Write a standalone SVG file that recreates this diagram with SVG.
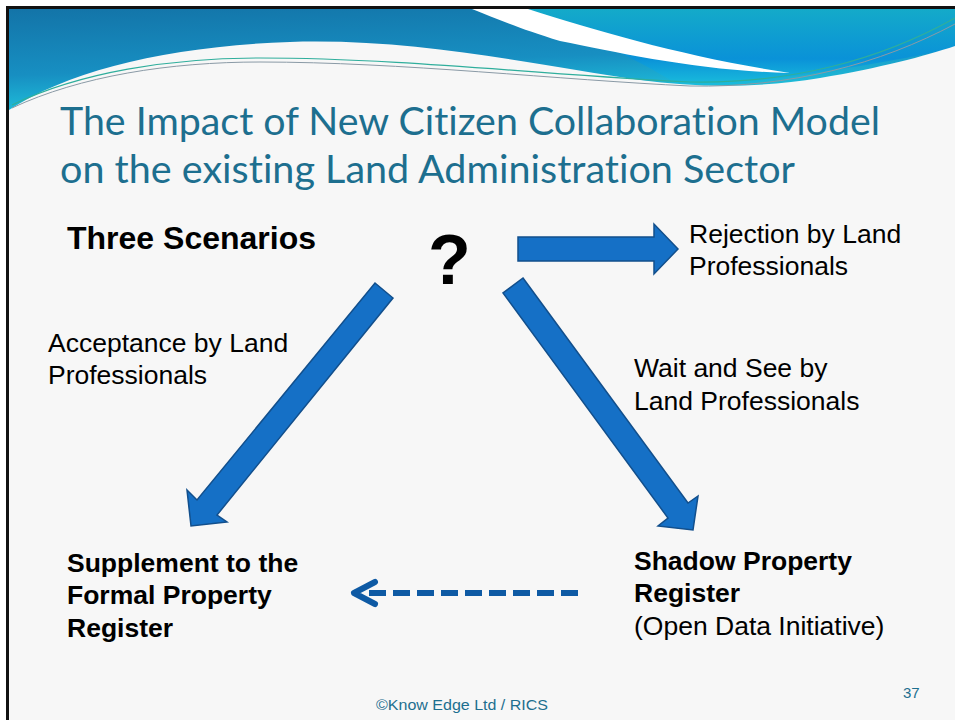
<svg xmlns="http://www.w3.org/2000/svg" width="955" height="720" viewBox="0 0 955 720">
<defs>
<linearGradient id="gLeft" x1="0" y1="0" x2="0.3" y2="1">
<stop offset="0" stop-color="#1374a8"/>
<stop offset="0.55" stop-color="#178fc2"/>
<stop offset="1" stop-color="#22d3e4"/>
</linearGradient>
<linearGradient id="gRight" x1="0" y1="0" x2="0" y2="1">
<stop offset="0" stop-color="#14aac9"/>
<stop offset="0.6" stop-color="#0a92d8"/>
<stop offset="1" stop-color="#1ec8dd"/>
</linearGradient>
<style>
.title{font-family:"Lato","Open Sans",sans-serif;font-size:38px;fill:#1d6f8f;font-variant-ligatures:none;font-feature-settings:"liga" 0,"dlig" 0}
.lbl{font-family:"Liberation Sans",Arial,sans-serif;font-size:26.5px;fill:#000}
.bold{font-family:"Liberation Sans",Arial,sans-serif;font-size:26.5px;font-weight:bold;fill:#000}
.foot{font-family:"Liberation Sans",Arial,sans-serif;font-size:15px;fill:#1d6f8f}
.blk{fill:#1570c6;stroke:#124f8c;stroke-width:1.5;stroke-linejoin:miter}
</style>
</defs>
<rect x="0" y="0" width="955" height="720" fill="#ffffff"/>
<rect x="8" y="8" width="947" height="712" fill="#f7f7f7"/>
<!-- header -->
<path d="M9,9 L955,9 L955,120 L9,120 Z" fill="url(#gLeft)"/>
<path d="M500,9 L955,9 L955,48 C 880,64 800,76 720,86 L 690,92 C 640,60 580,30 500,9 Z" fill="url(#gRight)"/>
<path d="M472,9 L528,9 C 600,32 690,58 790,73 C 700,71 620,53 560,41 C 520,29 495,18 472,9 Z" fill="#ffffff"/>
<path d="M9,110 C 70,70 170,46 290,42 C 420,38 540,66 640,80 C 700,88 760,88 820,78 C 880,68 925,56 955,46 L955,125 L9,125 Z" fill="#f7f7f7"/>
<path d="M12,105 C 80,72 170,58 260,58 C 400,58 560,76 690,82 C 790,84 880,60 955,18" fill="none" stroke="#2fae9c" stroke-width="1.2"/>
<path d="M12,108 C 80,76 170,62 260,62 C 400,62 560,80 690,86 C 790,88 880,64 955,24" fill="none" stroke="#8a9aa6" stroke-width="1"/>
<rect x="9" y="120" width="946" height="600" fill="#f7f7f7"/>
<!-- border -->
<path d="M7.5,720 L7.5,7.5 L955,7.5" fill="none" stroke="#111" stroke-width="3"/>
<!-- title -->
<g id="title">
<text class="title" x="60" y="135" textLength="820" lengthAdjust="spacingAndGlyphs">The Impact of New Citizen Collaboration Model</text>
<text class="title" x="60" y="183" textLength="735" lengthAdjust="spacingAndGlyphs">on the existing Land Administration Sector</text>
</g>
<g id="heading">
<text x="67" y="249" font-family="Liberation Sans, Arial, sans-serif" font-size="32" font-weight="bold" fill="#000">Three Scenarios</text>
</g>
<g id="question">
<text x="428" y="284" font-family="Liberation Sans, Arial, sans-serif" font-size="70" font-weight="bold" fill="#000">?</text>
</g>
<g id="rejection">
<text class="lbl" x="689" y="243">Rejection by Land</text>
<text class="lbl" x="689" y="275">Professionals</text>
</g>
<g id="acceptance">
<text class="lbl" x="48" y="352">Acceptance by Land</text>
<text class="lbl" x="48" y="384">Professionals</text>
</g>
<g id="waitsee">
<text class="lbl" x="634" y="377">Wait and See by</text>
<text class="lbl" x="634" y="410">Land Professionals</text>
</g>
<g id="supplement">
<text class="bold" x="67" y="572">Supplement to the</text>
<text class="bold" x="67" y="604">Formal Property</text>
<text class="bold" x="67" y="637">Register</text>
</g>
<g id="shadow">
<text class="bold" x="634" y="570">Shadow Property</text>
<text class="bold" x="634" y="602">Register</text>
<text class="lbl" x="634" y="635">(Open Data Initiative)</text>
</g>
<g id="connectors">
<polygon class="blk" points="518,237 654,237 654,224 678,249 654,274 654,261 518,261"/>
<polygon class="blk" points="375,283 393,298 217,515 227,522 191,526 187,490 197,500"/>
<polygon class="blk" points="523,278 688,503 698,496 693,530 658,526 668,518 503,293"/>
<line x1="578" y1="593" x2="369" y2="593" stroke="#0e5aa4" stroke-width="6" stroke-dasharray="17 7"/>
<polyline points="375,582 354,593 375,604" fill="none" stroke="#0e5aa4" stroke-width="6" stroke-linecap="round" stroke-linejoin="round"/>
</g>
<g id="footer">
<text class="foot" x="376" y="710" textLength="172" lengthAdjust="spacingAndGlyphs">©Know Edge Ltd / RICS</text>
<text class="foot" x="903" y="698">37</text>
</g>
</svg>
